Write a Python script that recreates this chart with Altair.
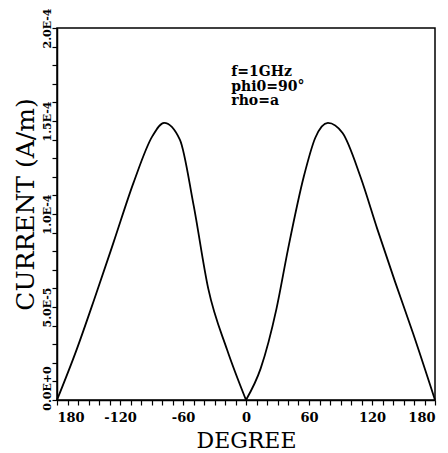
import altair as alt
import pandas as pd

# Surface current versus observation angle
degree = [-180, -162, -144, -126, -107, -89, -78, -63, -50, -36, -18, 0,
          14, 29, 40, 55, 66, 78, 92, 109, 125, 142, 159, 180]
current = [0.0, 2.6e-5, 5.5e-5, 8.5e-5, 1.17e-4, 1.42e-4, 1.49e-4, 1.40e-4,
           1.05e-4, 6.0e-5, 2.7e-5, 0.0,
           1.7e-5, 4.9e-5, 8.1e-5, 1.20e-4, 1.41e-4, 1.49e-4, 1.435e-4,
           1.20e-4, 9.2e-5, 6.35e-5, 3.6e-5, 0.0]

# Axis tick values and labels
x_ticks = list(range(-180, 181, 10))
y_tick_steps = list(range(0, 21))          # in units of 1E-5
y_labels = {0: "0.0E+0", 5: "5.0E-5", 10: "1.0E-4", 15: "1.5E-4", 20: "2.0E-4"}

# Parameter note
note_lines = ["f=1GHz", "phi0=90°", "rho=a"]
note_x = [-14]
note_y = [1.74e-4]

df = pd.DataFrame({"degree": degree, "current": current})
# the curve has a cusp at 0 degrees: smooth each lobe separately
left = df[df.degree <= 0].assign(lobe="left")
right = df[df.degree >= 0].assign(lobe="right")
curve_df = pd.concat([left, right], ignore_index=True)

note_df = pd.DataFrame({"degree": note_x, "current": note_y, "text": [note_lines]})

y_label_expr = "".join(
    f"round(datum.value*1e5) == {k} ? '{v}' : " for k, v in y_labels.items()
) + "''"
x_label_expr = ("datum.value % 60 == 0 ? (datum.value == -180 ? '180' : '' + datum.value) : ''")

FONT = "DejaVu Serif"

x_enc = alt.X(
    "degree:Q",
    scale=alt.Scale(domain=[-180, 180], nice=False, zero=False),
    axis=alt.Axis(
        values=x_ticks, labelExpr=x_label_expr, title="DEGREE",
        grid=False, tickSize=5, tickColor="black", domainColor="black",
        domainWidth=1.5, tickWidth=1.2, labelFont=FONT, labelFontSize=13,
        labelFontWeight="bold", labelColor="black", labelPadding=6,
        labelOverlap=False, labelBound=False, titleFont=FONT, titleFontSize=22,
        titleFontWeight="normal", titleColor="black",
        titleBaseline="alphabetic", titleY=47,
    ),
)
y_enc = alt.Y(
    "current:Q",
    scale=alt.Scale(domain=[0, 2e-4], nice=False),
    axis=alt.Axis(
        values=[k * 1e-5 for k in y_tick_steps], labelExpr=y_label_expr,
        title="CURRENT (A/m)", grid=False, tickSize=5, tickColor="black",
        domainColor="black", domainWidth=1.5, tickWidth=1.2,
        labelFont=FONT, labelFontSize=11, labelFontWeight="bold",
        labelColor="black", labelAngle=-90, labelAlign="center",
        labelBaseline="alphabetic", labelPadding=2, labelOverlap=False,
        labelBound=False,
        labelOffset={"condition": {"test": "datum.value == 0", "value": -12}, "value": 0},
        titleFont=FONT, titleFontSize=25, titleFontWeight="normal",
        titleColor="black", titleAngle=-90, titleAlign="center",
        titleBaseline="alphabetic", titleX=-24, titleY=176,
    ),
)

curve = alt.Chart(curve_df).mark_line(
    color="black", strokeWidth=1.8, interpolate="monotone"
).encode(x=x_enc, y=y_enc, detail="lobe:N")

# both layers share the same encodings so the merged axes stay identical
note = alt.Chart(note_df).mark_text(
    align="left", baseline="alphabetic", font=FONT, fontSize=14,
    fontWeight="bold", color="black", lineHeight=14.5,
).encode(x=x_enc, y=y_enc, text="text")

chart = alt.layer(curve, note).properties(
    width=378, height=372,
    autosize=alt.AutoSizeParams(type="none"),
    padding={"left": 57, "top": 28, "right": 13, "bottom": 53},
    background="white",
).configure_view(stroke="black", strokeWidth=1.5)

chart.save("out.html", embed_options={"renderer": "svg", "actions": False})
